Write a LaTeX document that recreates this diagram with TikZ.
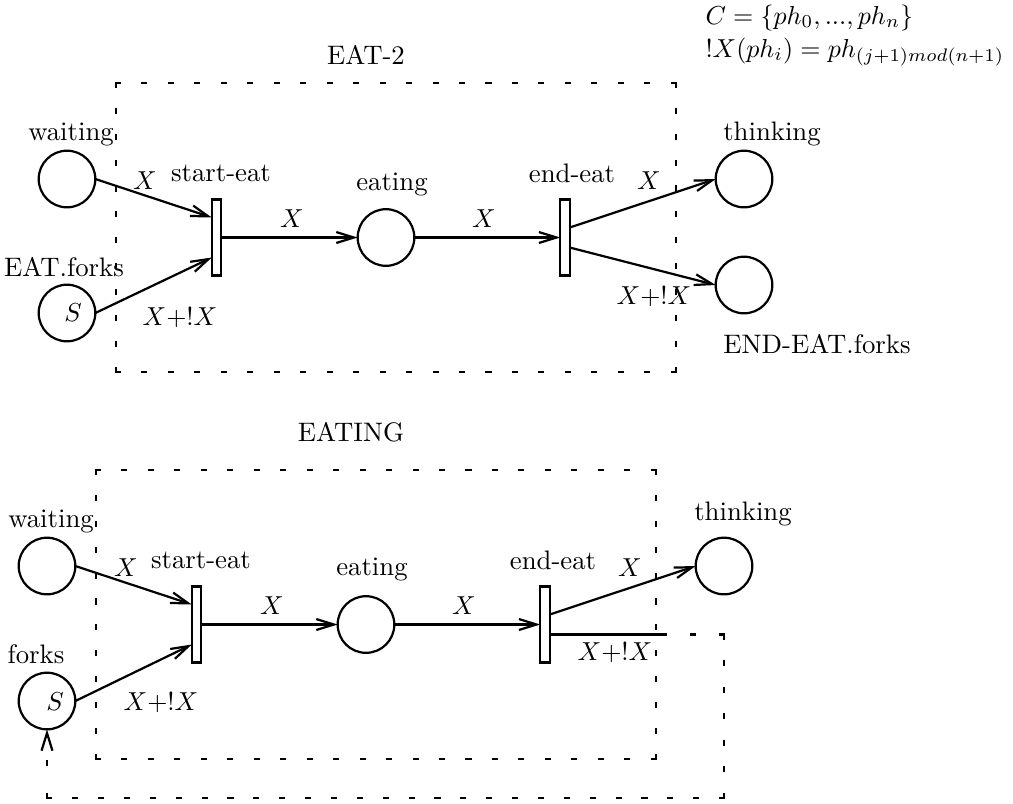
\documentclass[tikz,border=0pt]{standalone}
\usetikzlibrary{arrows.meta,calc}
\begin{document}
\begin{tikzpicture}[x=0.385pt,y=-0.385pt,
  font=\fontsize{10.3pt}{12.4pt}\selectfont,
  place/.style={circle,draw,line width=0.85pt,minimum size=21.8pt,inner sep=0pt,outer sep=0pt},
  trans/.style={rectangle,draw,line width=0.85pt,minimum width=3.6pt,minimum height=29.3pt,inner sep=0pt,outer sep=0pt},
  lbl/.style={inner sep=0pt},
  arc/.style={line width=0.85pt,-{Straight Barb[length=6.8pt,width=4.2pt]}},
  plain/.style={line width=0.85pt},
  frameh/.style={line width=0.85pt,line cap=rect,dash pattern=on 1.5pt off 8.69pt},
  framev/.style={line width=0.85pt,line cap=rect,dash pattern=on 1.5pt off 8.47pt}]
\useasboundingbox (0,0) rectangle (1013,803);

% colour definition
\node[lbl,anchor=base west] (cdef) at (705,24) {$C=\{ph_0,...,ph_n\}$};
\node[lbl,anchor=base west] (xdef) at (705,57) {$!X(ph_i)=ph_{(j+1)mod(n+1)}$};

% ---------- EAT-2 ----------
\node[lbl] (title1) at (366,55) {EAT-2};
\coordinate (b1nw) at (116,83);
\coordinate (b1ne) at (676,83);
\coordinate (b1sw) at (116,372);
\coordinate (b1se) at (676,372);
\draw[frameh] (b1nw) -- (b1ne);
\draw[frameh] (b1sw) -- (b1se);
\draw[framev] (b1nw) -- (b1sw);
\draw[framev] (b1ne) -- (b1se);

\node[place] (w1) at (67,179) {};
\node[place] (f1) at (67,313) {};
\node[trans] (se1) at (216.5,237.5) {};
\node[place] (e1) at (386,237.5) {};
\node[trans] (ee1) at (565,237.5) {};
\node[place] (t1) at (744,179) {};
\node[place] (ef1) at (744,285) {};

\node[lbl] (w1l) at (71,134) {waiting};
\node[lbl] (f1l) at (64,267) {EAT.forks};
\node[lbl] (f1s) at (73,313) {$S$};
\node[lbl] (se1l) at (221,173) {start-eat};
\node[lbl] (e1l) at (392,184) {eating};
\node[lbl] (ee1l) at (572,173) {end-eat};
\node[lbl] (t1l) at (772,134) {thinking};
\node[lbl] (ef1l) at (817,344) {END-EAT.forks};

\draw[arc] (w1.east) -- ($(se1.west)+(0,-20)$);
\draw[arc] (f1.east) -- ($(se1.west)+(0,20)$);
\draw[arc] (se1.east) -- (e1.west);
\draw[arc] (e1.east) -- (ee1.west);
\draw[arc] ($(ee1.east)+(0,-10)$) -- (t1.west);
\draw[arc] ($(ee1.east)+(0,10)$) -- (ef1.west);

\node[lbl] (x11) at (145,181) {$X$};
\node[lbl] (x12) at (180,318) {$X+!X$};
\node[lbl] (x13) at (292,219) {$X$};
\node[lbl] (x14) at (484,219) {$X$};
\node[lbl] (x15) at (649,181) {$X$};
\node[lbl] (x16) at (654,297) {$X+!X$};

% ---------- EATING ----------
\node[lbl] (title2) at (351,432) {EATING};
\coordinate (b2nw) at (96,470);
\coordinate (b2ne) at (656,470);
\coordinate (b2sw) at (96,759);
\coordinate (b2se) at (656,759);
\draw[frameh] (b2nw) -- (b2ne);
\draw[frameh] (b2sw) -- (b2se);
\draw[framev] (b2nw) -- (b2sw);
\draw[framev] (b2ne) -- (b2se);

\node[place] (w2) at (47,566) {};
\node[place] (f2) at (47,701) {};
\node[trans] (se2) at (196.5,624.5) {};
\node[place] (e2) at (366,624.5) {};
\node[trans] (ee2) at (545,624.5) {};
\node[place] (t2) at (724,566) {};

\node[lbl] (w2l) at (51,521) {waiting};
\node[lbl] (f2l) at (36,654) {forks};
\node[lbl] (f2s) at (55,702) {$S$};
\node[lbl] (se2l) at (201,560) {start-eat};
\node[lbl] (e2l) at (372,569) {eating};
\node[lbl] (ee2l) at (553,560) {end-eat};
\node[lbl] (t2l) at (743,514) {thinking};

\draw[arc] (w2.east) -- ($(se2.west)+(0,-20)$);
\draw[arc] (f2.east) -- ($(se2.west)+(0,20)$);
\draw[arc] (se2.east) -- (e2.west);
\draw[arc] (e2.east) -- (ee2.west);
\draw[arc] ($(ee2.east)+(0,-10)$) -- (t2.west);

% forks returned to the place outside the box
\coordinate (lpA) at (662,634.5);
\coordinate (lpB) at (724,634.5);
\coordinate (lpC) at (724,798);
\coordinate (lpD) at (47,798);
\draw[plain] ($(ee2.east)+(0,10)$) -- (lpA);
\draw[plain,line cap=rect,dash pattern=on 1.5pt off 9.66pt] (lpA) -- (lpB);
\draw[plain,line cap=rect,dash pattern=on 1.5pt off 8.73pt] (lpB) -- (lpC);
\draw[plain,line cap=rect,dash pattern=on 1.5pt off 8.46pt] (lpC) -- (lpD);
\draw[arc,line cap=rect,dash pattern=on 1.5pt off 11.2pt] (lpD) -- (f2.south);

\node[lbl] (x21) at (126,568) {$X$};
\node[lbl] (x22) at (161,703) {$X+!X$};
\node[lbl] (x23) at (272,606) {$X$};
\node[lbl] (x24) at (464,606) {$X$};
\node[lbl] (x25) at (630,568) {$X$};
\node[lbl] (x26) at (615,653) {$X+!X$};
\end{tikzpicture}
\end{document}
